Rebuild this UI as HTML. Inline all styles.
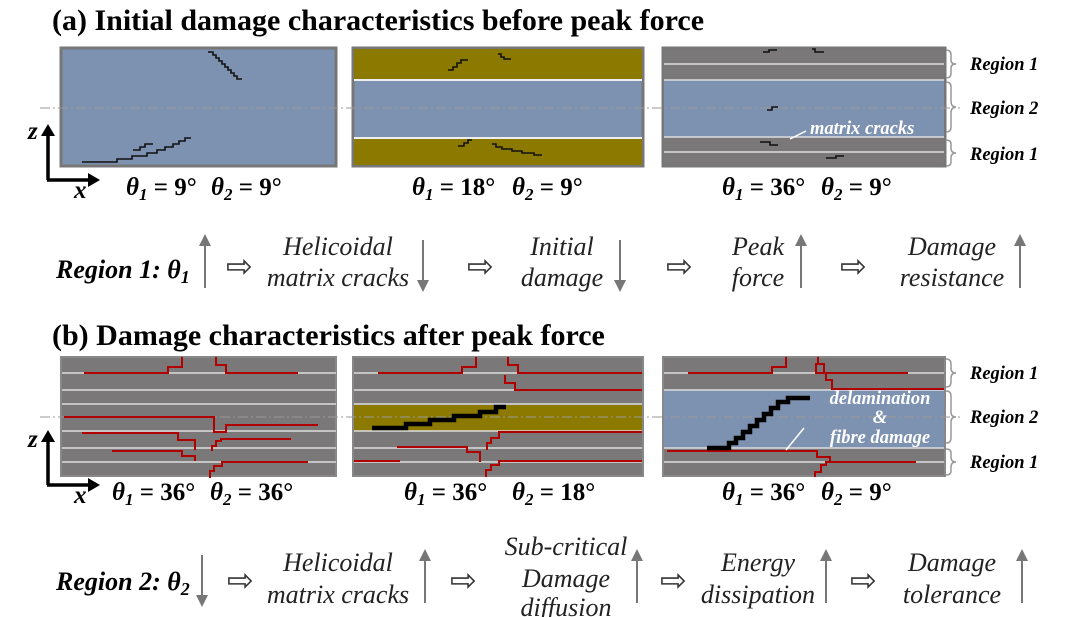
<!DOCTYPE html>
<html><head><meta charset="utf-8"><style>
body{margin:0;background:#fff;width:1080px;height:617px;overflow:hidden}
svg{display:block}
.t{font-family:"Liberation Serif",serif;font-weight:bold;font-size:30px}
.th{font-family:"Liberation Serif",serif;font-weight:bold;font-size:25px}
.it{font-family:"Liberation Serif",serif;font-style:italic;font-size:26px;fill:#222}
.rg{font-family:"Liberation Serif",serif;font-style:italic;font-weight:bold;font-size:18.5px}
.rb{font-family:"Liberation Serif",serif;font-style:italic;font-weight:bold;font-size:26px}
</style></head><body>
<svg width="1080" height="617" viewBox="0 0 1080 617">
<defs>
<marker id="ah" markerWidth="6" markerHeight="6" refX="3" refY="3" orient="auto"><path d="M0,0L6,3L0,6z" fill="#777"/></marker>
</defs>
<text x="52" y="30" class="t">(a) Initial damage characteristics before peak force</text>
<text x="52" y="345" class="t">(b) Damage characteristics after peak force</text>

<!-- top panels -->
<rect x="61" y="48" width="275" height="118" fill="#7d91b0" stroke="#777" stroke-width="3"/>
<rect x="353" y="48" width="290" height="118" fill="#7d91b0" stroke="#777" stroke-width="3"/>
<rect x="354" y="49" width="288" height="31" fill="#8c7a00"/>
<rect x="354" y="138" width="288" height="27" fill="#8c7a00"/>
<line x1="354" y1="80" x2="642" y2="80" stroke="#eee" stroke-width="2"/>
<line x1="354" y1="138" x2="642" y2="138" stroke="#eee" stroke-width="2"/>
<rect x="663" y="48" width="282" height="118" fill="#7a7878" stroke="#777" stroke-width="3"/>
<rect x="664" y="80" width="280" height="57" fill="#7d91b0"/>
<g stroke="#ddd" stroke-width="1.5"><line x1="664" y1="64" x2="944" y2="64"/><line x1="664" y1="80" x2="944" y2="80"/><line x1="664" y1="137" x2="944" y2="137"/><line x1="664" y1="152" x2="944" y2="152"/></g>
<line x1="40" y1="108" x2="960" y2="108" stroke="#999" stroke-dasharray="10,3,2,3" stroke-width="1"/>
<g fill="none" stroke="#111" stroke-width="1.6">
<path d="M208,52h5v3h3v3h3v3h3v3h3v3h3v3h3v3h3v3h3v3h5"/>
<path d="M82,162h35v-3h15v-3h15v-3h10v-3h8v-3h8v-3h6v-3h6v-3h6"/>
<path d="M133,150h7v-3h5v-3h8"/>
<path d="M448,70h5v-3h4v-4h4v-3h7"/><path d="M498,54h3v3h3v2h7"/>
<path d="M458,146h6v-3h4v-3h4"/><path d="M492,144h4v3h6v2h10v2h10v2h12v2h8"/>
<path d="M763,52h6v-2h8"/><path d="M812,49h3v3h9"/><path d="M767,110h5v-3h6"/><path d="M760,142h10v3h8"/><path d="M826,158h10v-2h8"/>
</g>
<g fill="none" stroke="#999" stroke-width="1.5"><path d="M946,50q5,0 5,5v5q0,4 5,4q-5,0 -5,4v5q0,5 -5,5"/><path d="M946,82q5,0 5,5v14q0,6 5,6q-5,0 -5,6v14q0,5 -5,5"/><path d="M946,140q5,0 5,4v4q0,5 5,5q-5,0 -5,5v4q0,4 -5,4"/></g>
<text x="970" y="70" class="rg">Region 1</text><text x="970" y="114" class="rg">Region 2</text><text x="970" y="160" class="rg">Region 1</text>
<text x="810" y="134" class="rg" fill="#fff" font-size="19">matrix cracks</text>
<line x1="806" y1="131" x2="790" y2="139" stroke="#fff" stroke-width="1.5"/>
<!-- axes top -->
<g stroke="#000" stroke-width="3.5" fill="none"><path d="M48,180V134M47,180H90"/></g>
<path d="M41,136l7,-12l7,12z M88,173l12,7l-12,7z"/>
<text x="28" y="139" class="th" font-style="italic">z</text><text x="74" y="198" class="th" font-style="italic">x</text>
<g class="th">
<text x="126" y="195" class="th" font-style="italic">θ<tspan font-size="17" dy="5">1</tspan><tspan dy="-5" font-style="normal"> = 9°</tspan></text>
<text x="211" y="195" class="th" font-style="italic">θ<tspan font-size="17" dy="5">2</tspan><tspan dy="-5" font-style="normal"> = 9°</tspan></text>
<text x="412" y="195" class="th" font-style="italic">θ<tspan font-size="17" dy="5">1</tspan><tspan dy="-5" font-style="normal"> = 18°</tspan></text>
<text x="512" y="195" class="th" font-style="italic">θ<tspan font-size="17" dy="5">2</tspan><tspan dy="-5" font-style="normal"> = 9°</tspan></text>
<text x="722" y="195" class="th" font-style="italic">θ<tspan font-size="17" dy="5">1</tspan><tspan dy="-5" font-style="normal"> = 36°</tspan></text>
<text x="821" y="195" class="th" font-style="italic">θ<tspan font-size="17" dy="5">2</tspan><tspan dy="-5" font-style="normal"> = 9°</tspan></text>
</g>

<!-- row 1 -->
<text x="56" y="278" class="rb">Region 1: θ<tspan font-size="18" dy="5">1</tspan></text>
<g stroke="#777" stroke-width="2" marker-end="url(#ah)">
<line x1="205" y1="288" x2="205" y2="240"/><line x1="423" y1="240" x2="423" y2="286"/><line x1="620" y1="240" x2="620" y2="286"/><line x1="801" y1="288" x2="801" y2="240"/><line x1="1020" y1="288" x2="1020" y2="240"/>
</g>
<g font-family="Liberation Serif,serif" font-size="32" fill="#333"><text x="226" y="277">⇨</text><text x="467" y="277">⇨</text><text x="666" y="277">⇨</text><text x="840" y="277">⇨</text></g>
<text x="338" y="255" class="it" text-anchor="middle">Helicoidal</text><text x="338" y="286" class="it" text-anchor="middle">matrix cracks</text>
<text x="562" y="255" class="it" text-anchor="middle">Initial</text><text x="562" y="286" class="it" text-anchor="middle">damage</text>
<text x="758" y="255" class="it" text-anchor="middle">Peak</text><text x="758" y="286" class="it" text-anchor="middle">force</text>
<text x="952" y="255" class="it" text-anchor="middle">Damage</text><text x="952" y="286" class="it" text-anchor="middle">resistance</text>

<!-- bottom panels -->
<rect x="61" y="357" width="275" height="119" fill="#7a7878" stroke="#888" stroke-width="2"/>
<rect x="353" y="357" width="290" height="119" fill="#7a7878" stroke="#888" stroke-width="2"/>
<rect x="354" y="405" width="288" height="26" fill="#8c7a00"/>
<rect x="663" y="357" width="282" height="119" fill="#7a7878" stroke="#888" stroke-width="2"/>
<rect x="664" y="390" width="280" height="58" fill="#7d91b0"/>
<g stroke="#ddd" stroke-width="1.5">
<path d="M62,373H336M62,390H336M62,404H336M62,431H336M62,448H336M62,462H336"/>
<path d="M354,373H642M354,390H642M354,404H642M354,431H642M354,448H642M354,462H642"/>
<path d="M664,373H944M664,390H944M664,448H944M664,462H944"/>
</g>
<line x1="40" y1="417" x2="960" y2="417" stroke="#999" stroke-dasharray="10,3,2,3" stroke-width="1"/>
<g fill="none" stroke="#b00000" stroke-width="2">
<path d="M84,373h84v-6h14v-10"/><path d="M216,357v8h10v8h72"/>
<path d="M64,417h150v15h12v-7h92"/><path d="M82,433h96v7h17v10"/><path d="M112,451h70v5h13v5"/><path d="M212,451v-5h4v-5h5v-2h70"/><path d="M210,478v-7h4v-5h8v-4h86"/>
<path d="M378,373h84v-6h14v-10"/><path d="M508,357v8h10v8h124"/><path d="M505,375v8h10v7h127"/><path d="M397,447h70v5h13v10"/><path d="M487,450v-7h4v-5h8v-6h143"/><path d="M486,477v-7h5v-5h8v-4h143"/><path d="M354,461h46"/>
<path d="M688,373h84v-6h14v-10"/><path d="M818,357v7h6v9h84"/><path d="M816,363v10h10v7h6v9h112"/>
<path d="M667,451h150v6h13v6"/><path d="M815,477v-5h6v-7h5v-3h90"/>
</g>
<g fill="none" stroke="#000" stroke-width="4.5">
<path d="M372,428h34v-4h24v-4h24v-4h26v-4h16v-5h10"/>
<path d="M707,448h22v-5h7v-5h7v-6h7v-6h7v-6h7v-6h7v-6h7v-6h10v-4h22"/>
</g>
<text x="880" y="404" class="rg" fill="#fff" text-anchor="middle" font-size="20">delamination</text>
<text x="880" y="423" class="rg" fill="#fff" text-anchor="middle" font-size="20">&amp;</text>
<text x="880" y="443" class="rg" fill="#fff" text-anchor="middle" font-size="20">fibre damage</text>
<line x1="804" y1="428" x2="786" y2="450" stroke="#fff" stroke-width="1.5"/>
<g fill="none" stroke="#999" stroke-width="1.5"><path d="M946,359q5,0 5,5v4q0,5 5,5q-5,0 -5,5v4q0,5 -5,5"/><path d="M946,391q5,0 5,5v16q0,5 5,5q-5,0 -5,5v16q0,5 -5,5"/><path d="M946,449q5,0 5,4v4q0,5 5,5q-5,0 -5,5v4q0,4 -5,4"/></g>
<text x="970" y="379" class="rg">Region 1</text><text x="970" y="423" class="rg">Region 2</text><text x="970" y="468" class="rg">Region 1</text>
<g stroke="#000" stroke-width="3.5" fill="none"><path d="M48,485V440M47,485H90"/></g>
<path d="M41,442l7,-12l7,12z M88,478l12,7l-12,7z"/>
<text x="28" y="447" class="th" font-style="italic">z</text><text x="74" y="503" class="th" font-style="italic">x</text>
<text x="112" y="500" class="th" font-style="italic">θ<tspan font-size="17" dy="5">1</tspan><tspan dy="-5" font-style="normal"> = 36°</tspan></text>
<text x="210" y="500" class="th" font-style="italic">θ<tspan font-size="17" dy="5">2</tspan><tspan dy="-5" font-style="normal"> = 36°</tspan></text>
<text x="404" y="500" class="th" font-style="italic">θ<tspan font-size="17" dy="5">1</tspan><tspan dy="-5" font-style="normal"> = 36°</tspan></text>
<text x="512" y="500" class="th" font-style="italic">θ<tspan font-size="17" dy="5">2</tspan><tspan dy="-5" font-style="normal"> = 18°</tspan></text>
<text x="722" y="500" class="th" font-style="italic">θ<tspan font-size="17" dy="5">1</tspan><tspan dy="-5" font-style="normal"> = 36°</tspan></text>
<text x="821" y="500" class="th" font-style="italic">θ<tspan font-size="17" dy="5">2</tspan><tspan dy="-5" font-style="normal"> = 9°</tspan></text>

<!-- row 2 -->
<text x="56" y="590" class="rb">Region 2: θ<tspan font-size="18" dy="5">2</tspan></text>
<g stroke="#777" stroke-width="2" marker-end="url(#ah)">
<line x1="202" y1="555" x2="202" y2="601"/><line x1="425" y1="603" x2="425" y2="555"/><line x1="637" y1="603" x2="637" y2="555"/><line x1="826" y1="603" x2="826" y2="555"/><line x1="1022" y1="603" x2="1022" y2="555"/>
</g>
<g font-family="Liberation Serif,serif" font-size="32" fill="#333"><text x="227" y="591">⇨</text><text x="450" y="591">⇨</text><text x="660" y="591">⇨</text><text x="850" y="591">⇨</text></g>
<text x="338" y="571" class="it" text-anchor="middle">Helicoidal</text><text x="338" y="603" class="it" text-anchor="middle">matrix cracks</text>
<text x="566" y="555" class="it" text-anchor="middle">Sub-critical</text><text x="566" y="587" class="it" text-anchor="middle">Damage</text><text x="566" y="616" class="it" text-anchor="middle">diffusion</text>
<text x="758" y="571" class="it" text-anchor="middle">Energy</text><text x="758" y="603" class="it" text-anchor="middle">dissipation</text>
<text x="952" y="571" class="it" text-anchor="middle">Damage</text><text x="952" y="603" class="it" text-anchor="middle">tolerance</text>
</svg>
</body></html>
